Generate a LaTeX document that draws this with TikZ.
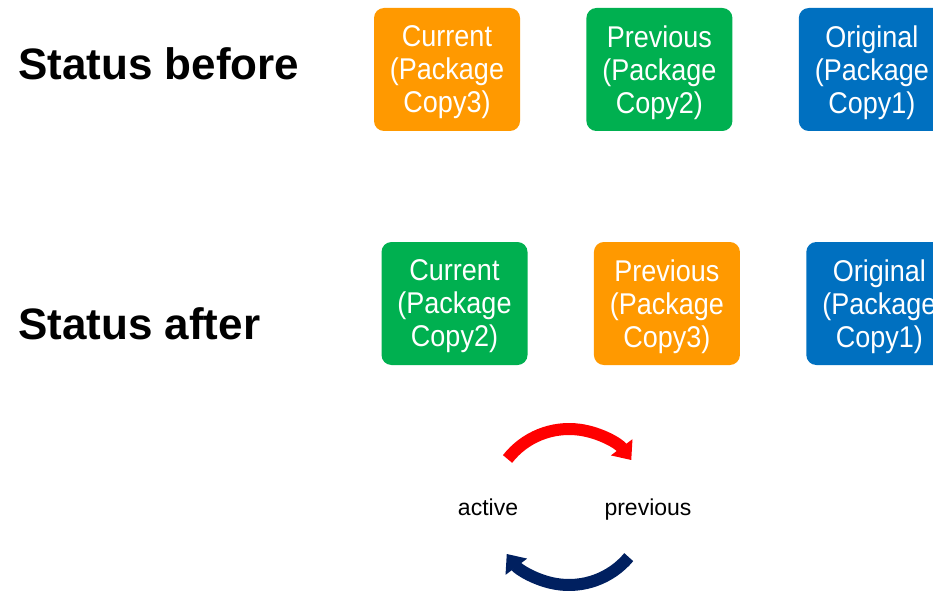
\documentclass[tikz,border=0pt]{standalone}
\usepackage{fontspec}
\setmainfont{Liberation Sans}
\newfontfamily\boxfont[FakeStretch=0.9]{Liberation Sans}
\usepackage{xcolor}
\usetikzlibrary{arrows.meta}
\usetikzlibrary{positioning}

\definecolor{pkgorange}{RGB}{255,153,0}
\definecolor{pkggreen}{RGB}{0,176,80}
\definecolor{pkgblue}{RGB}{0,112,192}
\definecolor{swapred}{RGB}{255,0,0}
\definecolor{swapnavy}{RGB}{0,32,96}

\begin{document}
\begin{tikzpicture}[x=1pt,y=1pt,
        pkg/.style={rounded corners=10pt,minimum width=146pt,minimum height=123pt,inner sep=0pt},
        pkgtext/.style={align=center,text=white,inner sep=0pt,yshift=-3pt,
            font=\boxfont\fontsize{30}{33}\selectfont},
        status/.style={anchor=west,inner sep=0pt,font=\bfseries\fontsize{44}{48}\selectfont},
        role/.style={anchor=base,inner sep=0pt,font=\fontsize{23}{26}\selectfont},
        swap/.style={line width=12pt,-{Triangle[width=26pt,length=16pt]}},
        node distance=66pt]
            \clip (0,0) rectangle (933,590);

            % status before
            \node[status] (before) at (18,526) {Status before};
            \node[pkg,fill=pkgorange,label={[pkgtext]center:{Current\\(Package\\Copy3)}}] (cur1) at (447,520.5) {};
            \node[pkg,fill=pkggreen,right=of cur1,label={[pkgtext]center:{Previous\\(Package\\Copy2)}}] (prev1) {};
            \node[pkg,fill=pkgblue,right=of prev1,label={[pkgtext]center:{Original\\(Package\\Copy1)}}] (orig1) {};

            % status after
            \node[status] (after) at (18,266) {Status after};
            \node[pkg,fill=pkggreen,label={[pkgtext]center:{Current\\(Package\\Copy2)}}] (cur2) at (454.5,286.5) {};
            \node[pkg,fill=pkgorange,right=of cur2,label={[pkgtext]center:{Previous\\(Package\\Copy3)}}] (prev2) {};
            \node[pkg,fill=pkgblue,right=of prev2,label={[pkgtext]center:{Original\\(Package\\Copy1)}}] (orig2) {};

            % switch
            \coordinate (mid) at (569,83);
            \node[role] (active) at (488,75) {active};
            \node[role] (previous) at (648,75) {previous};
            \draw[swap,swapred] ([shift={(142:78)}]mid) arc[start angle=142,end angle=37,radius=78];
            \draw[swap,swapnavy] ([shift={(-40:78)}]mid) arc[start angle=-40,end angle=-143,radius=78];
\end{tikzpicture}
\end{document}
